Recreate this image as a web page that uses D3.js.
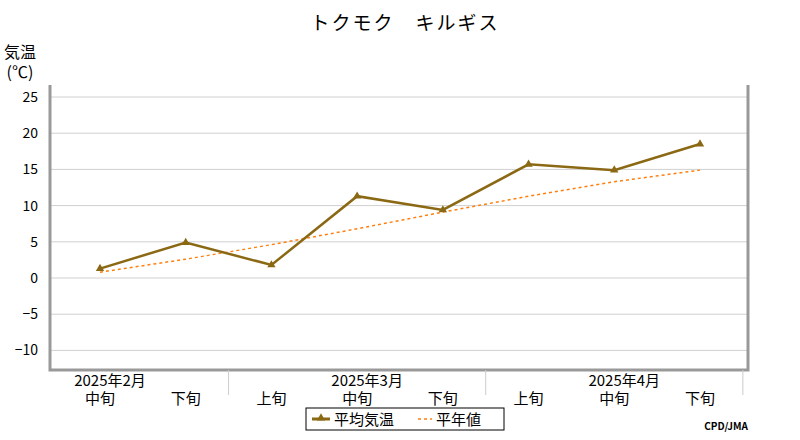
<!DOCTYPE html>
<html><head><meta charset="utf-8">
<script src="https://cdn.jsdelivr.net/npm/d3@7"></script>
<style>body{margin:0;background:#fff}text{font-family:"Noto Sans CJK JP","DejaVu Sans",sans-serif}</style>
</head><body><svg id="c" width="800" height="440"></svg>
<script>
const dekads = ['中旬','下旬','上旬','中旬','下旬','上旬','中旬','下旬'];
const months = [{label:'2025年2月', i:0}, {label:'2025年3月', i:3}, {label:'2025年4月', i:6}];
const separators = [1.5, 4.5, 7.5];
const meanTemp = [1.3, 4.9, 1.8, 11.3, 9.4, 15.7, 14.9, 18.5];
const normalTemp = [0.8, 2.6, 4.6, 6.8, 9.1, 11.3, 13.3, 14.9];
const yTicks = [-10, -5, 0, 5, 10, 15, 20, 25];

const svg = d3.select('#c');
const L = 50, R = 748, T = 85, B = 370;
const x = d3.scaleLinear().domain([0, 7]).range([100, 700]);
const y = d3.scaleLinear().domain([0, 25]).range([278, 97]);

svg.append('text').attr('x', 405).attr('y', 30).attr('text-anchor', 'middle')
  .attr('font-size', 19).attr('letter-spacing', 2).text('トクモク　キルギス');
svg.append('text').attr('x', 20).attr('y', 58).attr('text-anchor', 'middle').attr('font-size', 16).text('気温');
svg.append('text').attr('x', 20).attr('y', 78).attr('text-anchor', 'middle').attr('font-size', 16).text('(℃)');

svg.selectAll('.grid').data(yTicks).join('line')
  .attr('x1', L).attr('x2', R).attr('y1', d => y(d)).attr('y2', d => y(d))
  .attr('stroke', '#d0d0d0');
svg.selectAll('.yt').data(yTicks).join('text')
  .attr('x', 38).attr('y', d => y(d) + 5).attr('text-anchor', 'end').attr('font-size', 14)
  .text(d => d < 0 ? '−' + (-d) : d);

svg.append('path').attr('d', `M${L},${T}V${B}H${R}V${T}`).attr('fill', 'none')
  .attr('stroke', '#999').attr('stroke-width', 3);

svg.selectAll('.sep').data(separators).join('line')
  .attr('x1', d => x(d)).attr('x2', d => x(d)).attr('y1', B).attr('y2', 395).attr('stroke', '#ccc');
svg.selectAll('.dk').data(dekads).join('text')
  .attr('x', (d, i) => x(i)).attr('y', 404).attr('text-anchor', 'middle').attr('font-size', 15).text(d => d);
svg.selectAll('.mo').data(months).join('text')
  .attr('x', d => x(d.i) + 10).attr('y', 386).attr('text-anchor', 'middle').attr('font-size', 15).text(d => d.label);

const line = d3.line().x((d, i) => x(i)).y(d => y(d));
svg.append('path').attr('d', line(normalTemp)).attr('fill', 'none')
  .attr('stroke', '#ff7f0e').attr('stroke-width', 1.5).attr('stroke-dasharray', '3,3');
svg.append('path').attr('d', line(meanTemp)).attr('fill', 'none')
  .attr('stroke', '#8b6914').attr('stroke-width', 2.5);
svg.selectAll('.mk').data(meanTemp).join('path')
  .attr('transform', (d, i) => `translate(${x(i)},${y(d)})`)
  .attr('d', d3.symbol(d3.symbolTriangle, 30)).attr('fill', '#8b6914');

const lg = svg.append('g').attr('transform', 'translate(306,408)');
lg.append('rect').attr('width', 198).attr('height', 22).attr('fill', '#fff').attr('stroke', '#000');
lg.append('line').attr('x1', 6).attr('x2', 24).attr('y1', 11).attr('y2', 11).attr('stroke', '#8b6914').attr('stroke-width', 3);
lg.append('path').attr('transform', 'translate(15,10)').attr('d', d3.symbol(d3.symbolTriangle, 30)).attr('fill', '#8b6914');
lg.append('text').attr('x', 28).attr('y', 17).attr('font-size', 15).text('平均気温');
lg.append('line').attr('x1', 112).attr('x2', 126).attr('y1', 11).attr('y2', 11).attr('stroke', '#ff7f0e').attr('stroke-width', 1.5).attr('stroke-dasharray', '3,3');
lg.append('text').attr('x', 130).attr('y', 17).attr('font-size', 15).text('平年値');

svg.append('text').attr('x', 748).attr('y', 430).attr('text-anchor', 'end').attr('font-size', 10)
  .attr('font-family', 'DejaVu Sans Mono').attr('font-weight', 'bold').text('CPD/JMA');
</script></body></html>
